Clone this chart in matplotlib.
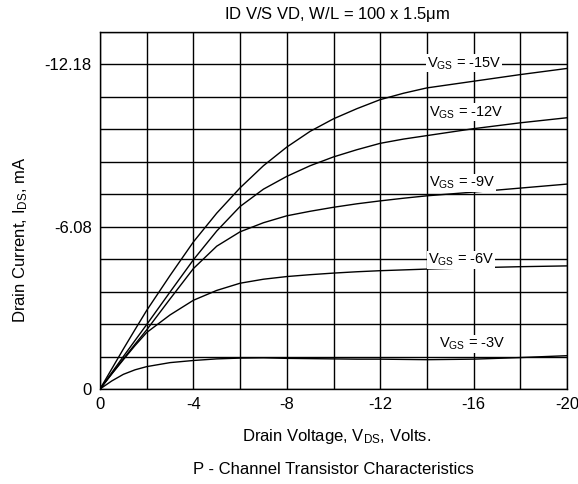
import numpy as np
import matplotlib.pyplot as plt

plt.rcParams["font.family"] = ["Liberation Sans", "DejaVu Sans"]
plt.rcParams["mathtext.fontset"] = "custom"
plt.rcParams["mathtext.rm"] = "Liberation Sans"
plt.rcParams["mathtext.it"] = "Liberation Sans"

# Drain voltage points (V) and drain current (mA)
vds = [0, -0.5, -1, -1.5, -2, -3, -4, -5, -6, -7, -8, -9, -10, -11, -12, -13, -14, -16, -18, -20]
id_15 = [0, -0.75, -1.50, -2.23, -2.95, -4.26, -5.52, -6.60, -7.55, -8.38, -9.08, -9.67,
         -10.14, -10.52, -10.86, -11.10, -11.30, -11.55, -11.80, -12.03]
id_12 = [0, -0.61, -1.22, -1.82, -2.42, -3.64, -4.85, -5.93, -6.85, -7.50, -7.98, -8.38,
         -8.71, -8.98, -9.22, -9.38, -9.51, -9.77, -9.99, -10.18]
id_9 = [0, -0.57, -1.13, -1.68, -2.22, -3.38, -4.52, -5.36, -5.90, -6.24, -6.50, -6.67,
        -6.82, -6.95, -7.06, -7.16, -7.25, -7.39, -7.54, -7.69]
id_6 = [0, -0.56, -1.10, -1.63, -2.12, -2.78, -3.33, -3.70, -3.97, -4.12, -4.22, -4.29,
        -4.35, -4.40, -4.44, -4.47, -4.50, -4.55, -4.59, -4.62]
id_3 = [0, -0.30, -0.55, -0.72, -0.84, -0.99, -1.07, -1.13, -1.16, -1.17, -1.15, -1.14,
        -1.13, -1.12, -1.12, -1.11, -1.10, -1.12, -1.18, -1.25]

curves = [id_15, id_12, id_9, id_6, id_3]
labels = [r"V$_{\rm GS}$ = -15V", r"V$_{\rm GS}$ = -12V", r"V$_{\rm GS}$ = -9V",
          r"V$_{\rm GS}$ = -6V", r"V$_{\rm GS}$ = -3V"]
label_x = [-14.0, -14.1, -14.1, -14.05, -14.5]
label_y = [-12.22, -10.38, -7.74, -4.85, -1.69]

step = 1.218
fig = plt.figure(figsize=(5.78, 4.84), dpi=100)
ax = fig.add_axes([100 / 578, 1 - 389 / 484, 467 / 578, 357 / 484])

for c in curves:
    ax.plot(vds, c, color="black", lw=1.0)

for lab, x, y in zip(labels, label_x, label_y):
    ax.text(x, y, lab, ha="left", va="center", fontsize=10.5,
            bbox=dict(facecolor="white", edgecolor="none", pad=0.5))

ax.set_xlim(0, -20)
ax.set_ylim(0, -11 * step)
ax.set_xticks(np.arange(0, -21, -4))
ax.set_xticklabels(["0", "-4", "-8", "-12", "-16", "-20"])
ax.set_xticks(np.arange(0, -21, -2), minor=True)
ax.set_yticks([0, -5 * step, -10 * step])
ax.set_yticklabels(["0", "-6.08", "-12.18"])
ax.set_yticks(np.arange(0, -11.5 * step, -step), minor=True)
ax.grid(True, which="both", color="black", lw=1.0)
ax.tick_params(which="both", length=0, labelsize=12, pad=6)
for s in ax.spines.values():
    s.set_linewidth(1.0)

fig.text(337 / 578, 1 - 15 / 484, r"ID V/S VD, W/L = 100 x 1.5$\mu$m",
         ha="center", va="center", fontsize=12)
fig.text(337 / 578, 1 - 437 / 484, r"Drain Voltage, V$_{\rm DS}$, Volts.",
         ha="center", va="center", fontsize=12)
fig.text(333 / 578, 1 - 469 / 484, "P - Channel Transistor Characteristics",
         ha="center", va="center", fontsize=12)
fig.text(21 / 578, 1 - 240 / 484, r"Drain Current, I$_{\rm DS}$, mA",
         ha="center", va="center", rotation=90, fontsize=12)

fig.savefig("out.png", dpi=100)
